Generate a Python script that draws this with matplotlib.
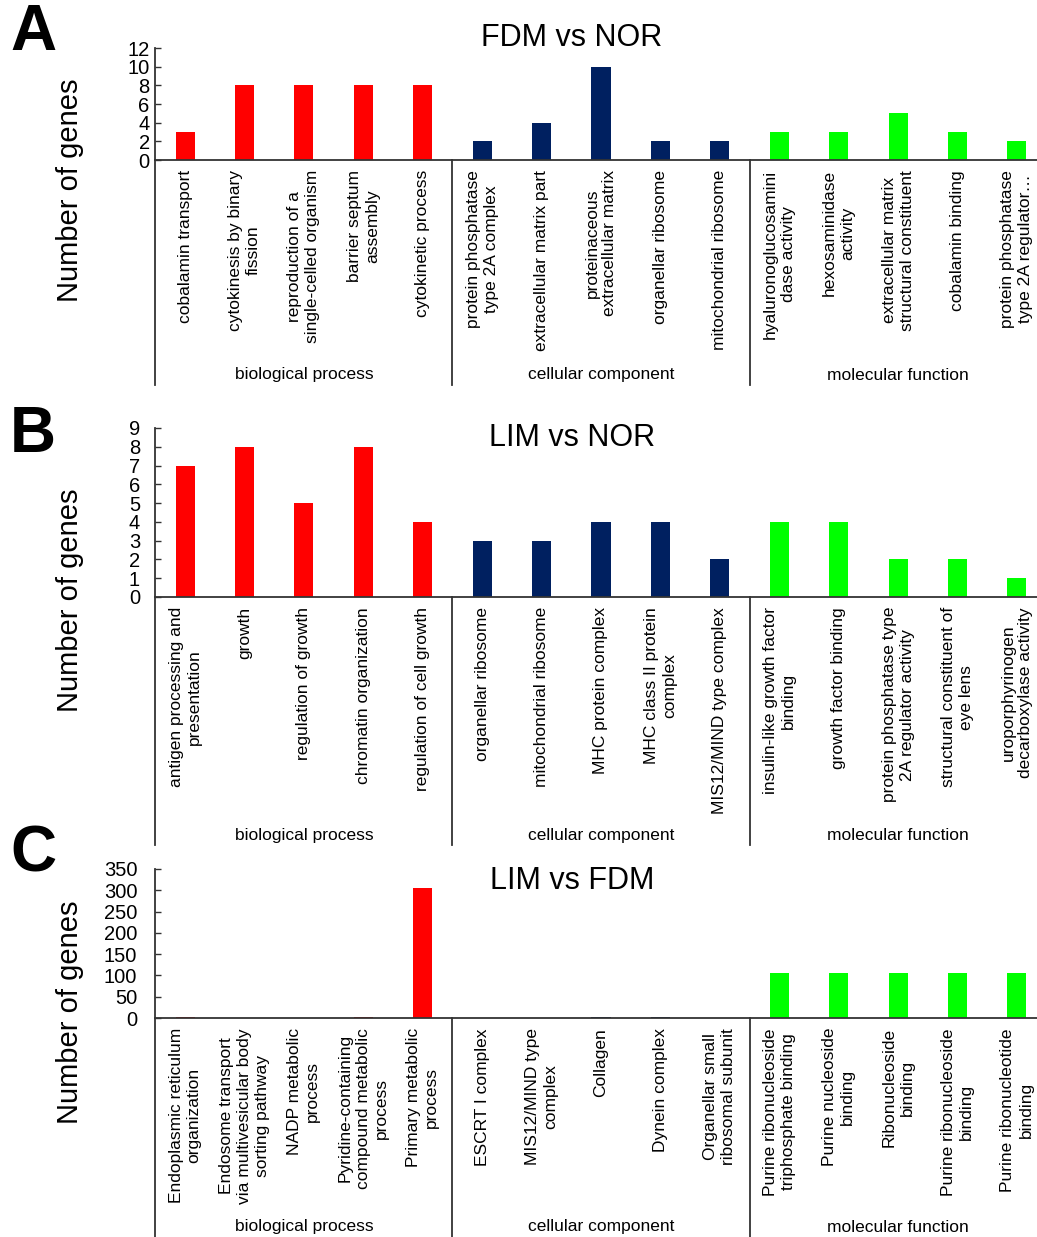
import matplotlib.pyplot as plt
from matplotlib import transforms

plt.rcParams['font.family'] = ['Liberation Sans', 'DejaVu Sans']

# colours of the three GO groups
RED = "#FF0000"
NAVY = "#002060"
GREEN = "#00FF00"

groups = ["biological process", "cellular component", "molecular function"]

# Panel A: FDM vs NOR
a_labels = [
    "cobalamin transport", "cytokinesis by binary\nfission",
    "reproduction of a\nsingle-celled organism", "barrier septum\nassembly",
    "cytokinetic process",
    "protein phosphatase\ntype 2A complex", "extracellular matrix part",
    "proteinaceous\nextracellular matrix", "organellar ribosome",
    "mitochondrial ribosome",
    "hyaluronoglucosamini\ndase activity", "hexosaminidase\nactivity",
    "extracellular matrix\nstructural constituent", "cobalamin binding",
    "protein phosphatase\ntype 2A regulator\u2026",
]
a_values = [3, 8, 8, 8, 8, 2, 4, 10, 2, 2, 3, 3, 5, 3, 2]

# Panel B: LIM vs NOR
b_labels = [
    "antigen processing and\npresentation", "growth", "regulation of growth",
    "chromatin organization", "regulation of cell growth",
    "organellar ribosome", "mitochondrial ribosome", "MHC protein complex",
    "MHC class II protein\ncomplex", "MIS12/MIND type complex",
    "insulin-like growth factor\nbinding", "growth factor binding",
    "protein phosphatase type\n2A regulator activity",
    "structural constituent of\neye lens",
    "uroporphyrinogen\ndecarboxylase activity",
]
b_values = [7, 8, 5, 8, 4, 3, 3, 4, 4, 2, 4, 4, 2, 2, 1]

# Panel C: LIM vs FDM
c_labels = [
    "Endoplasmic reticulum\norganization",
    "Endosome transport\nvia multivesicular body\nsorting pathway",
    "NADP metabolic\nprocess",
    "Pyridine-containing\ncompound metabolic\nprocess",
    "Primary metabolic\nprocess",
    "ESCRT I complex", "MIS12/MIND type\ncomplex", "Collagen",
    "Dynein complex", "Organellar small\nribosomal subunit",
    "Purine ribonucleoside\ntriphosphate binding",
    "Purine nucleoside\nbinding", "Ribonucleoside\nbinding",
    "Purine ribonucleoside\nbinding", "Purine ribonucleotide\nbinding",
]
c_values = [2, 1, 1, 2, 306, 1, 1, 2, 2, 1, 105, 105, 105, 105, 105]

W, H = 1037, 1237
fig = plt.figure(figsize=(W / 100, H / 100), dpi=100)

colors = [RED] * 5 + [NAVY] * 5 + [GREEN] * 5
AXC = "#333333"


def panel(title, labels, values, ymax, ystep, top_px, zero_px, bottom_px,
          title_y, ylabel_y, tick_pad):
    left, right = 155.3, 1046.7
    h = zero_px - top_px
    ax = fig.add_axes([left / W, (H - zero_px) / H, (right - left) / W, h / H])
    x = list(range(len(values)))
    ax.bar(x, values, width=0.32, color=colors)
    ax.set_xlim(-0.5, 14.5)
    ax.set_ylim(0, ymax)
    ax.set_yticks(range(0, ymax + 1, ystep))
    ax.set_xticks([])
    for s in ["top", "right"]:
        ax.spines[s].set_visible(False)
    for s in ["left", "bottom"]:
        ax.spines[s].set_color(AXC)
        ax.spines[s].set_linewidth(1.3)
    ax.tick_params(axis="y", direction="in", length=4.5, width=1,
                   color=AXC, labelsize=14.5, pad=tick_pad)

    trans = transforms.blended_transform_factory(ax.transData, ax.transAxes)
    y_bot = -(bottom_px - zero_px) / h
    # vertical separators below the axis
    for xs in [-0.5, 4.5, 9.5]:
        ax.plot([xs, xs], [0, y_bot], transform=trans, color=AXC,
                lw=1.3, clip_on=False)
    # category labels
    y_lab = -10 / h
    for xi, lab in zip(x, labels):
        ax.text(xi, y_lab, lab, transform=trans, rotation=90, ha="center",
                va="top", multialignment="center", fontsize=12.5,
                linespacing=1.25)
    # group labels
    y_grp = -(bottom_px - 10 - zero_px) / h
    for gi, g in enumerate(groups):
        ax.text(2 + 5 * gi, y_grp, g, transform=trans, ha="center",
                va="center", fontsize=12.5)

    fig.text(572 / W, 1 - title_y / H, title, ha="center",
             va="center", fontsize=22)
    fig.text(70 / W, 1 - ylabel_y / H, "Number of genes", rotation=90,
             ha="center", va="center", fontsize=21)
    return ax


panel("FDM vs NOR", a_labels, a_values, 12, 2, 48, 160, 385, 38, 190, 4)
panel("LIM vs NOR", b_labels, b_values, 9, 1, 428, 597, 845, 438, 600, 11)
panel("LIM vs FDM", c_labels, c_values, 350, 50, 869, 1018, 1237, 881, 1012, 13)

# panel letters
for letter, ycen in [("A", 33), ("B", 435), ("C", 855)]:
    fig.text(33 / W, 1 - ycen / H, letter, ha="center", va="center",
             fontsize=46, fontweight="bold")

fig.savefig("out.png", dpi=100)
